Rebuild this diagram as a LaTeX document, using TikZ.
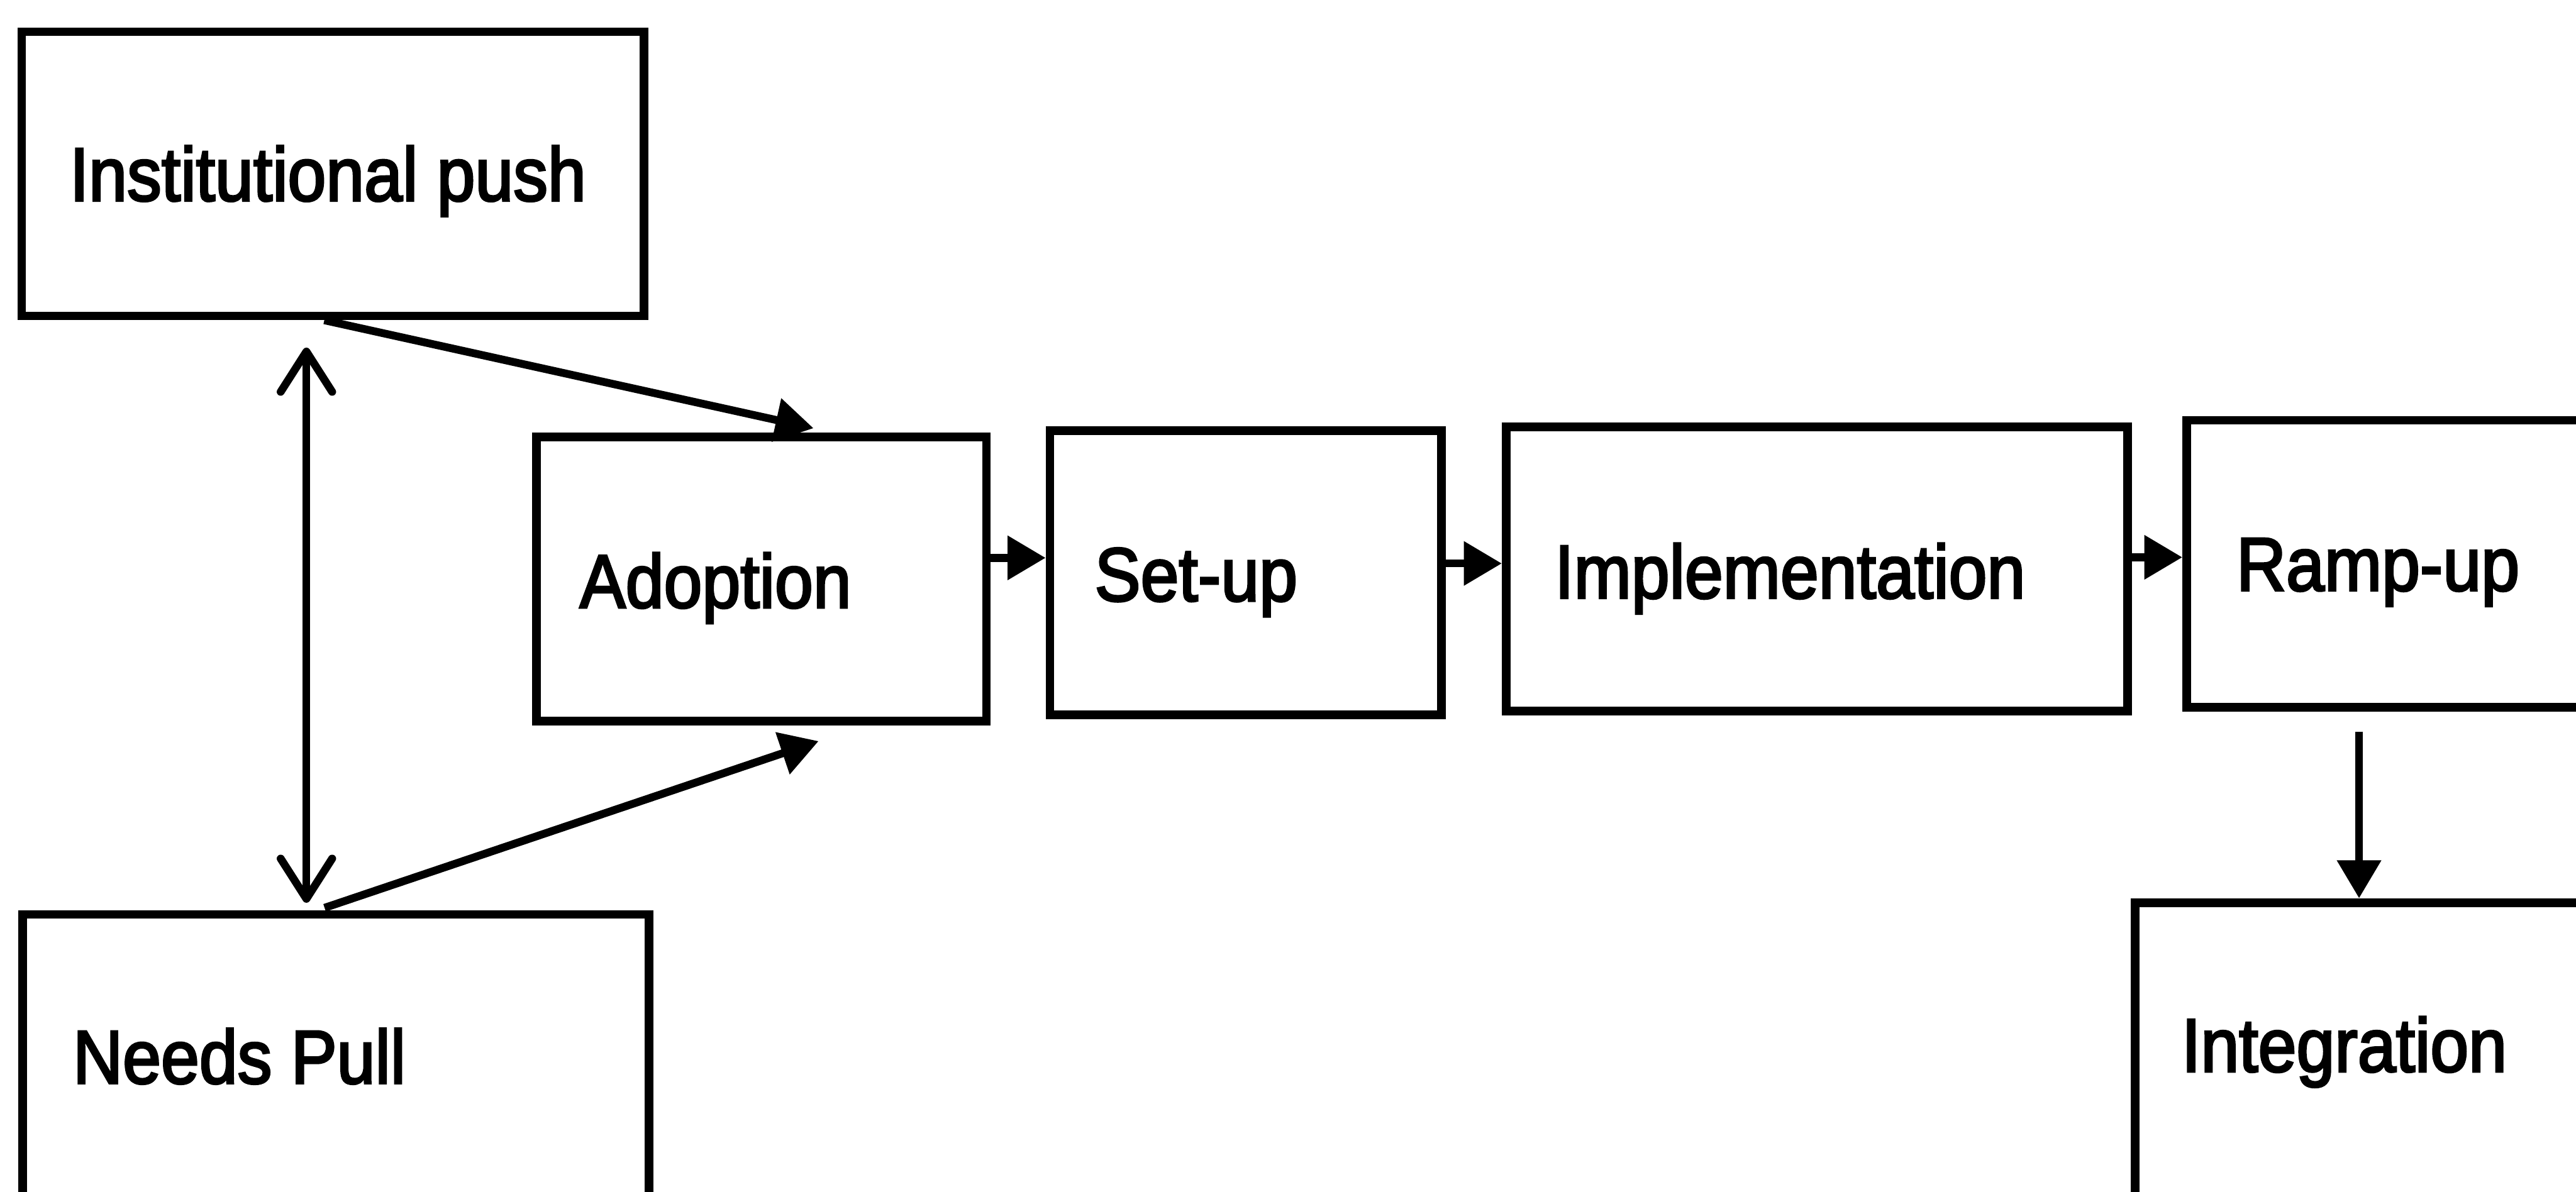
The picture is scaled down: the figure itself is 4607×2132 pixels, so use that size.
\documentclass[tikz,border=0pt]{standalone}
\usepackage{fontspec}
\setmainfont{Liberation Sans}
\newfontfamily\heavysans[FakeBold=3]{Liberation Sans}
\usetikzlibrary{arrows.meta,calc}
% slightly tall, heavy lettering used inside the stage boxes
\newcommand{\boxtext}[1]{\scalebox{1}[1.1]{#1}}
\begin{document}
\begin{tikzpicture}[x=0.01cm, y=-0.01cm,
  stage/.style={draw, line width=4.4pt, inner sep=0pt, minimum height=5.08cm},
  lbl/.style={anchor=base west, inner sep=0pt, font=\heavysans\fontsize{35}{42}\selectfont},
  link/.style={line width=4pt},
  tip/.style={-{Triangle[length=0.68cm,width=0.76cm]}},
  barbs/.style={{Straight Barb[length=0.72cm,width=0.92cm,round]}-{Straight Barb[length=0.72cm,width=0.92cm,round]}}
]
\useasboundingbox (0,0) rectangle (4607,2132);
\clip (0,0) rectangle (4607,2132);
\fill[white] (0,0) rectangle (4607,2132);

% stage boxes
\node[stage, minimum width=11.12cm] (inst) at (595,311) {};
\node[stage, minimum width=11.19cm, minimum height=6.14cm] (needs) at (600.5,1943) {};
\node[stage, minimum width=8.04cm] (adopt) at (1362,1036) {};
\node[stage, minimum width=7.00cm] (setup) at (2228,1025) {};
\node[stage, minimum width=11.11cm] (impl) at (3249.5,1018) {};
\node[stage, minimum width=7.89cm, minimum height=5.13cm] (ramp) at (4305.5,1008.5) {};
\node[stage, minimum width=8.81cm, minimum height=6.35cm] (integ) at (4259.5,1932.5) {};

% box captions
\node[lbl] (inst-t)  at ($(inst.west)+(93,48)$)  {\boxtext{Institutional push}};
\node[lbl] (adopt-t) at ($(adopt.west)+(84,51)$) {\boxtext{Adoption}};
\node[lbl] (setup-t) at ($(setup.west)+(87,50)$) {\boxtext{Set-up}};
\node[lbl] (impl-t)  at ($(impl.west)+(94,52)$)  {\boxtext{Implementation}};
\node[lbl] (ramp-t)  at ($(ramp.west)+(96,48)$)  {\boxtext{Ramp-up}};
\node[lbl] (integ-t) at ($(integ.north west)+(90,310)$) {\boxtext{Integration}};
\node[lbl] (needs-t) at ($(needs.north west)+(97,310)$) {\boxtext{Needs Pull}};

% push and pull feeding adoption
\draw[link,tip] ($(inst.south)+(-15,0)$) -- ($(adopt.north)+(93,-8)$);
\draw[link,tip] ($(needs.north)+(-20,-4)$) -- ($(adopt.south)+(102,28)$);
\draw[link,barbs] ($(inst.south)+(-47,49)$) -- ($(needs.north)+(-52.5,-13)$);

% main sequence
\coordinate (r1) at (0,998);
\coordinate (r2) at (0,1008);
\coordinate (r3) at (0,997);
\coordinate (cx) at (4219,0);
\draw[link,tip] (adopt.east |- r1) -- (setup.west |- r1);
\draw[link,tip] (setup.east |- r2) -- (impl.west |- r2);
\draw[link,tip] (impl.east |- r3) -- (ramp.west |- r3);
\draw[link,tip] ($(ramp.south -| cx)+(0,36)$) -- (integ.north -| cx);
\end{tikzpicture}
\end{document}
